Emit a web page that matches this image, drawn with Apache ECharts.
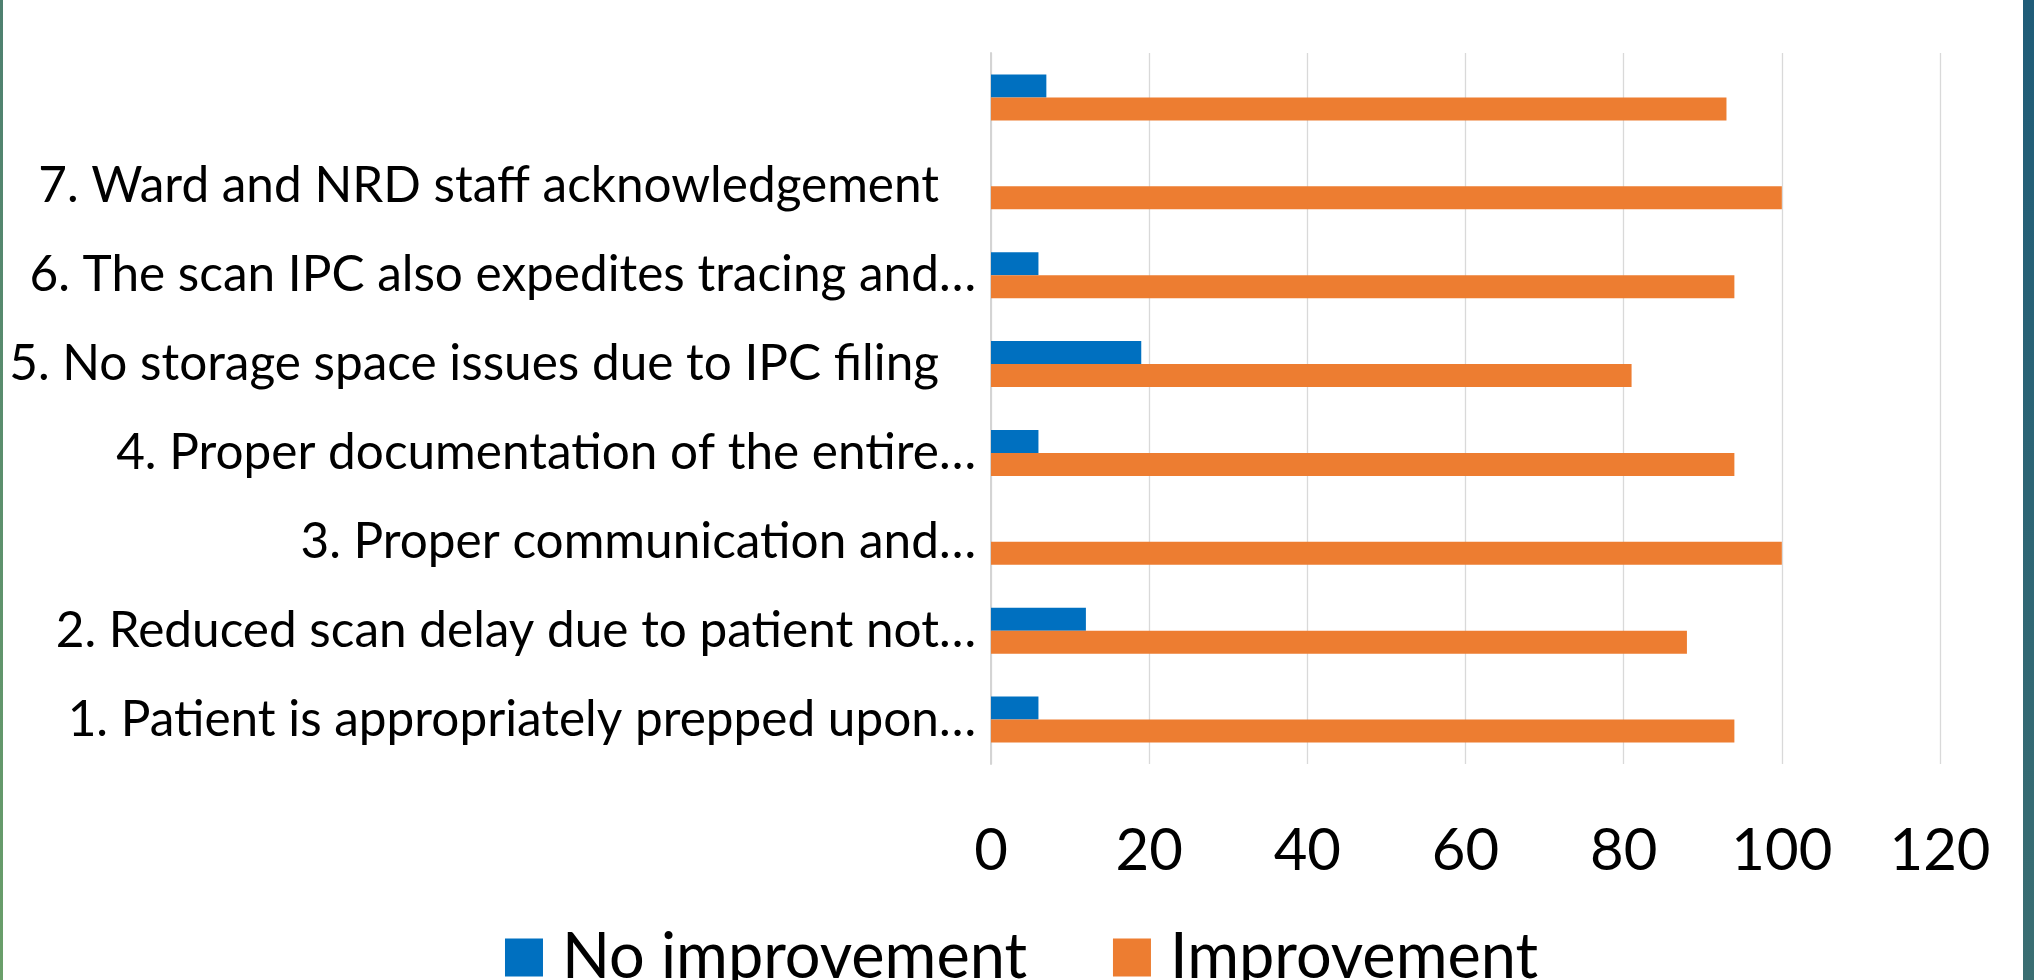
<!DOCTYPE html>
<html>
<head>
<meta charset="utf-8">
<script src="https://cdn.jsdelivr.net/npm/echarts@6/dist/echarts.min.js"></script>
<style>
html,body{margin:0;padding:0;background:#fff;}
#chart{width:2043px;height:980px;}
</style>
</head>
<body>
<div id="chart"></div>
<script>
var categories = [
  "1. Patient is appropriately prepped upon\u2026",
  "2. Reduced scan delay due to patient not\u2026",
  "3. Proper communication and\u2026",
  "4. Proper documentation of the entire\u2026",
  "5. No storage space issues due to IPC filing",
  "6. The scan IPC also expedites tracing and\u2026",
  "7. Ward and NRD staff acknowledgement",
  ""
];
var noImprovement = [6, 12, 0, 6, 19, 6, 0, 7];
var improvement = [94, 88, 100, 94, 81, 94, 100, 93];
var xTicks = [0, 20, 40, 60, 80, 100, 120];

var FONT = 'Lato';
var chart = echarts.init(document.getElementById('chart'), null, {renderer: 'canvas'});
chart.setOption({
  backgroundColor: '#ffffff',
  animation: false,
  grid: {left: 991, right: 103, top: 53, bottom: 216, containLabel: false, outerBoundsMode: 'none'},
  legend: {
    left: 'center',
    top: 921,
    itemWidth: 38,
    itemHeight: 38,
    itemGap: 86,
    icon: 'rect',
    textStyle: {fontFamily: FONT, fontSize: 63, color: '#000', padding: [0, 0, 0, 14]},
    data: ['No improvement', 'Improvement']
  },
  xAxis: {
    type: 'value',
    min: xTicks[0],
    max: xTicks[xTicks.length - 1],
    interval: xTicks[1] - xTicks[0],
    axisLine: {show: false},
    axisTick: {show: false},
    splitLine: {show: true, lineStyle: {color: '#d9d9d9', width: 1.3}},
    axisLabel: {fontFamily: FONT, fontSize: 58, color: '#000', margin: 58}
  },
  yAxis: {
    type: 'category',
    data: categories,
    axisLine: {show: true, lineStyle: {color: '#d4d4d4', width: 2}},
    axisTick: {show: false},
    axisLabel: {
      fontFamily: FONT, fontSize: 49.5, color: '#000', margin: 15,
      formatter: function (v) {
        if (v && v.charAt(v.length - 1) !== '\u2026') return '{full|' + v + '}';
        return v;
      },
      rich: {full: {fontFamily: FONT, fontSize: 49.5, color: '#000', padding: [0, 37, 0, 0]}}
    }
  },
  series: [
    {name: 'No improvement', type: 'bar', data: noImprovement, barWidth: 23, barGap: '0%',
     itemStyle: {color: '#0070C0'}},
    {name: 'Improvement', type: 'bar', data: improvement, barWidth: 23, barGap: '0%',
     itemStyle: {color: '#ED7D31'}}
  ],
  graphic: [
    {type: 'rect', shape: {x: 0, y: 0, width: 3, height: 980}, silent: true,
     style: {fill: new echarts.graphic.LinearGradient(0, 0, 0, 1, [
       {offset: 0, color: '#4e8070'}, {offset: 1, color: '#6a9f6a'}])}},
    {type: 'rect', shape: {x: 2023, y: 0, width: 11, height: 980}, silent: true,
     style: {fill: new echarts.graphic.LinearGradient(0, 0, 0, 1, [
       {offset: 0, color: '#1f5c78'}, {offset: 1, color: '#3a6e72'}])}}
  ]
});
</script>
</body>
</html>
